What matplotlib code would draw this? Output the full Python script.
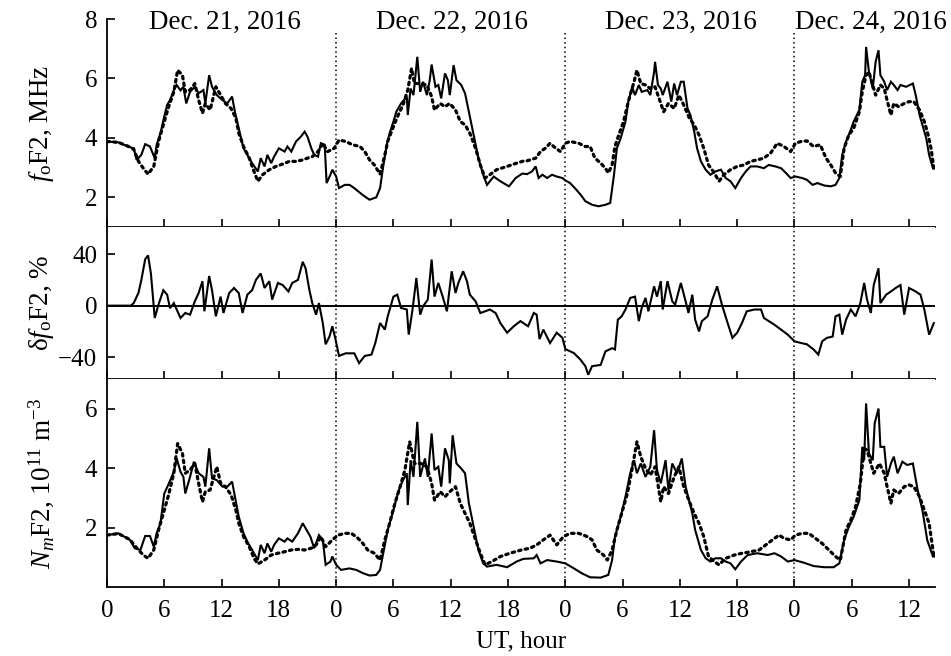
import numpy as np
import matplotlib
matplotlib.use("Agg")
import matplotlib.pyplot as plt

plt.rcParams['font.family'] = ['Liberation Serif', 'DejaVu Serif']
plt.rcParams['mathtext.fontset'] = 'custom'
plt.rcParams['mathtext.rm'] = 'Liberation Serif'
plt.rcParams['mathtext.it'] = 'Liberation Serif:italic'

# ---- foF2, observed (solid) ----
fo_obs_h = [0.0, 1.2, 2.2, 2.8, 3.1, 3.6, 4.0, 4.5, 5.0, 5.2, 5.6, 6.0, 6.3, 6.6, 7.0, 7.3, 7.7, 8.0, 8.3, 8.7,
            9.2, 9.6, 10.1, 10.3, 10.7, 11.0, 11.5, 12.1, 12.6, 13.1, 13.4, 13.8, 14.3, 14.7, 15.2, 15.8, 16.1,
            16.5, 16.8, 17.2, 17.5, 18.0, 18.6, 18.9, 19.3, 19.8, 20.3, 20.7, 21.0, 21.4, 21.7, 22.1, 22.4,
            22.8, 23.0, 23.4, 23.6, 24.0, 24.3, 24.9, 25.4, 25.9, 26.5, 27.0, 27.5, 28.2, 28.6, 28.9, 29.3,
            29.6, 30.0, 30.3, 30.8, 31.4, 31.5, 31.8, 32.1, 32.5, 32.8, 33.1, 33.5, 33.8, 34.0, 34.4, 34.7,
            35.0, 35.4, 35.7, 35.9, 36.3, 36.6, 37.1, 37.5, 37.9, 38.4, 38.9, 39.4, 39.8, 40.5, 41.2, 42.1,
            42.8, 43.5, 44.0, 44.5, 44.9, 45.2, 45.6, 46.1, 46.6, 47.1, 47.7, 48.0, 48.5, 49.0, 49.6, 50.1,
            50.8, 51.5, 52.2, 52.7, 53.1, 53.4, 53.8, 54.3, 54.6, 55.0, 55.3, 55.7, 56.0, 56.6, 56.9, 57.3,
            57.4, 57.7, 58.0, 58.2, 58.7, 59.1, 59.4, 59.7, 60.1, 60.4, 60.8, 61.1, 61.5, 61.8, 62.2, 62.7,
            63.2, 63.7, 64.3, 64.8, 65.3, 65.8, 66.4, 66.9, 67.4, 68.1, 68.8, 69.3, 70.0, 70.6, 71.1, 71.6,
            72.1, 72.8, 73.3, 73.9, 74.4, 75.1, 75.8, 76.3, 76.7, 77.0, 77.4, 77.9, 78.2, 78.8, 79.1, 79.4,
            79.5, 79.8, 80.2, 80.5, 80.8, 81.0, 81.4, 81.7, 82.1, 82.4, 82.8, 83.1, 83.7, 84.4, 84.7, 85.1,
            85.4, 85.8, 86.1, 86.5]
fo_obs = [3.88, 3.85, 3.71, 3.65, 3.26, 3.43, 3.79, 3.71, 3.32, 3.77, 4.16, 4.72, 5.11, 5.27, 5.61, 5.78, 5.60,
          5.72, 5.16, 5.55, 5.72, 5.50, 5.61, 5.16, 6.11, 5.72, 5.44, 5.27, 5.16, 5.39, 4.88, 4.32, 3.65, 3.43,
          3.15, 2.87, 3.32, 3.04, 3.43, 3.15, 3.37, 3.65, 3.54, 3.71, 3.54, 3.88, 4.04, 4.21, 4.04, 3.65, 3.43,
          3.37, 3.82, 3.77, 2.48, 2.76, 2.93, 2.70, 2.31, 2.42, 2.42, 2.31, 2.15, 2.03, 1.92, 2.00, 2.31, 2.98,
          3.77, 4.16, 4.55, 4.88, 5.16, 5.39, 4.77, 5.66, 5.44, 6.73, 5.55, 5.89, 5.44, 5.94, 6.47, 5.72, 5.78,
          5.33, 6.17, 5.94, 5.44, 6.45, 5.94, 5.78, 5.50, 4.88, 4.10, 3.32, 2.76, 2.42, 2.70, 2.54, 2.37, 2.65,
          2.80, 2.78, 2.87, 3.04, 2.65, 2.76, 2.65, 2.76, 2.70, 2.65, 2.57, 2.48, 2.31, 2.09, 1.87, 1.75, 1.70,
          1.75, 1.81, 2.76, 3.65, 3.99, 4.55, 5.22, 5.72, 5.44, 5.78, 5.55, 5.61, 5.44, 6.22, 6.56, 5.78, 5.66,
          5.44, 5.89, 5.22, 5.83, 5.44, 5.89, 5.89, 4.99, 4.77, 4.21, 3.65, 3.21, 2.93, 2.76, 2.87, 2.93, 2.65,
          2.54, 2.31, 2.65, 2.87, 3.04, 3.04, 2.98, 3.09, 3.04, 2.98, 2.82, 2.65, 2.70, 2.65, 2.59, 2.42, 2.48,
          2.40, 2.37, 2.42, 2.65, 3.43, 3.88, 4.27, 4.55, 4.94, 5.89, 6.11, 7.06, 6.22, 5.66, 6.56, 6.95, 6.11,
          5.89, 5.61, 5.89, 5.78, 5.61, 5.78, 5.72, 5.83, 5.44, 4.77, 4.43, 3.99, 3.43, 2.98]

# ---- foF2, median (dotted) ----
fo_med_h = [0.0, 1.2, 2.2, 2.8, 3.3, 3.8, 4.3, 4.9, 5.4, 5.9, 6.4, 7.0, 7.4, 7.9, 8.2, 8.7, 9.2, 9.6, 10.0, 10.3,
            10.8, 11.4, 11.9, 12.4, 13.0, 13.5, 13.8, 14.3, 14.9, 15.4, 15.8, 16.3, 17.0, 17.7, 18.4, 19.1,
            19.8, 20.5, 21.0, 21.5, 22.1, 22.6, 23.1, 23.8, 24.3, 25.0, 25.7, 26.5, 27.0, 27.5, 28.0, 28.6,
            29.1, 29.4, 30.0, 30.5, 31.0, 31.5, 31.9, 32.2, 32.9, 33.5, 34.0, 34.3, 34.9, 35.4, 35.9, 36.5,
            37.0, 37.5, 38.0, 38.6, 39.1, 39.6, 40.1, 40.8, 41.9, 42.9, 43.6, 44.0, 44.9, 45.4, 45.9, 46.4,
            47.0, 47.5, 48.0, 48.5, 49.4, 50.1, 50.6, 51.1, 51.7, 52.2, 52.5, 52.9, 53.2, 53.6, 54.1, 54.6,
            55.2, 55.5, 55.9, 56.4, 56.9, 57.4, 58.0, 58.3, 58.8, 59.4, 59.9, 60.4, 61.0, 61.5, 62.0, 62.5,
            63.0, 63.6, 64.1, 64.6, 65.3, 66.0, 66.7, 67.4, 68.1, 68.8, 69.5, 70.2, 70.9, 71.6, 72.1, 72.7,
            73.3, 74.0, 74.7, 75.3, 75.8, 76.3, 76.8, 77.2, 77.7, 78.2, 78.8, 79.1, 79.5, 79.8, 80.2, 80.5,
            81.0, 81.4, 81.7, 82.1, 82.4, 82.9, 83.5, 84.0, 84.5, 85.1, 85.6, 86.0, 86.3, 86.6]
fo_med = [3.88, 3.85, 3.72, 3.62, 3.21, 2.98, 2.78, 3.04, 3.88, 4.44, 4.99, 5.55, 6.28, 6.11, 5.55, 5.61, 5.83,
          5.27, 4.83, 5.16, 4.94, 5.72, 5.44, 5.16, 4.99, 4.66, 4.16, 3.71, 3.32, 2.87, 2.54, 2.76, 2.93, 3.04,
          3.12, 3.21, 3.21, 3.26, 3.32, 3.37, 3.54, 3.82, 3.54, 3.65, 3.93, 3.88, 3.77, 3.71, 3.54, 3.26, 3.09,
          2.78, 3.43, 3.88, 4.38, 4.77, 5.11, 5.61, 6.34, 5.83, 5.83, 5.78, 5.39, 4.94, 5.16, 5.05, 5.16, 4.94,
          4.55, 4.44, 4.16, 3.65, 3.09, 2.65, 2.76, 2.93, 3.04, 3.15, 3.22, 3.23, 3.32, 3.54, 3.65, 3.82, 3.65,
          3.54, 3.82, 3.88, 3.82, 3.71, 3.71, 3.32, 3.15, 2.98, 2.82, 3.09, 3.71, 4.10, 4.55, 5.22, 5.89, 6.28,
          5.83, 5.78, 5.66, 5.72, 5.16, 4.88, 5.16, 4.99, 5.44, 5.11, 4.66, 4.44, 4.10, 3.65, 3.09, 2.82, 2.54,
          2.76, 2.93, 3.04, 3.09, 3.21, 3.26, 3.32, 3.49, 3.82, 3.71, 3.54, 3.82, 3.88, 3.90, 3.71, 3.77, 3.32,
          3.09, 2.82, 2.70, 3.65, 4.10, 4.32, 4.88, 5.55, 6.11, 6.22, 5.78, 5.44, 5.78, 5.66, 5.27, 4.77, 5.16,
          5.05, 5.16, 5.22, 5.22, 4.94, 4.55, 4.10, 3.65, 2.98]

# ---- delta foF2, % ----
dfo_h = [0.0, 2.5, 2.8, 3.3, 3.6, 4.0, 4.3, 4.6, 4.9, 5.0, 5.4, 5.9, 6.3, 6.6, 7.0, 7.3, 7.7, 8.2, 8.7, 9.2, 9.6,
         10.0, 10.2, 10.7, 11.0, 11.4, 11.9, 12.2, 12.8, 13.3, 13.8, 14.2, 14.7, 15.2, 15.6, 16.1, 16.5, 17.0,
         17.3, 17.9, 18.4, 19.0, 19.4, 20.0, 20.5, 20.8, 21.2, 21.5, 21.9, 22.2, 22.6, 22.9, 23.3, 23.6, 23.9,
         24.3, 25.0, 25.9, 26.4, 27.0, 27.7, 28.1, 28.6, 29.1, 29.4, 30.0, 30.4, 30.8, 31.4, 31.6, 32.0, 32.4,
         32.8, 33.1, 33.6, 34.0, 34.3, 34.7, 35.2, 35.6, 36.1, 36.5, 36.8, 37.3, 37.7, 38.0, 38.6, 39.1, 39.6,
         40.1, 40.7, 41.2, 41.9, 42.6, 43.3, 44.1, 44.7, 45.0, 45.3, 45.7, 46.4, 47.1, 47.7, 48.0, 48.9, 49.6,
         50.1, 50.4, 50.8, 51.7, 52.2, 52.9, 53.2, 53.5, 53.9, 54.3, 54.8, 55.3, 55.7, 56.0, 56.4, 56.7, 57.3,
         57.6, 58.0, 58.2, 58.7, 59.2, 59.5, 60.1, 60.6, 60.9, 61.3, 61.6, 62.0, 62.3, 62.9, 63.4, 63.9, 64.4,
         65.0, 65.5, 66.0, 66.5, 67.0, 67.8, 68.5, 68.8, 69.3, 69.9, 70.6, 71.3, 72.0, 72.7, 73.3, 74.0, 74.5,
         74.9, 75.4, 76.0, 76.3, 76.7, 77.0, 77.4, 77.9, 78.4, 78.9, 79.3, 79.6, 80.0, 80.3, 80.8, 81.0, 81.6,
         82.1, 82.6, 83.1, 83.5, 84.0, 84.7, 85.2, 85.6, 86.1, 86.6]
dfo = [0, 0, 2, 10, 20, 36, 39, 25, -0.5, -9.6, 1, 12, 8.5, -2, 2, -3, -9.6, -5.7, -7, 3.4, 9.8, 19, -4.4, 23, 12,
       -8.3, 7, -5.7, 9.8, 13.7, 9.8, -5.7, 8.5, 12, 20, 25, 13.7, 19, 4.7, 17.6, 16, 11, 17.6, 20, 34, 29, 12, 2,
       -7, 2, -13.5, -30, -24, -16, -25, -39, -37, -37, -44.6, -39, -38, -29, -13.5, -18.6, -8.3, 7, 8.5, -1.8,
       -3, -22.5, -3, 21.5, -7, -0.5, 4.7, 35.8, 7, 17.6, 6, -4.4, 26.7, 9.8, 17.6, 26.7, 19, 8.5, 3.4, -5.7,
       -4.4, -3, -5.7, -13.5, -21, -16, -12, -16, -5.7, -7, -26, -18.6, -29, -21, -25, -33.7, -36.8, -42, -47,
       -53.6, -47, -46, -35.5, -33, -34, -10.9, -8.3, -3, 6, 7, -12, -1.8, 6, -4.4, 15, 7, 19, -3, 19, 3.4, 0.8,
       17.6, 3.4, -5.7, 8.5, -10.9, -20, -12, -8.3, 4.7, 15, 0.8, -13.5, -25, -21, -13.5, -4.4, -3, -3, -9.6,
       -12, -14.8, -18.6, -22.5, -27.7, -29, -30, -34, -38, -27.7, -25, -24, -8.3, -7, -22.5, -10.9, -3, -8.3, 2,
       17.6, 4.7, -5.7, 16, 29, 2, 8.5, 11, 13.7, 16, -7, 13.7, 11, 8.5, -3, -22.5, -13.5]

# ---- NmF2, observed (solid), 1e11 m^-3 ----
nm_obs_h = [0.0, 1.2, 2.4, 2.9, 3.5, 4.0, 4.5, 4.9, 5.2, 5.6, 6.0, 6.4, 7.0, 7.3, 7.7, 8.0, 8.2, 8.7, 9.1, 9.6,
            10.1, 10.3, 10.7, 11.0, 11.5, 12.1, 12.6, 13.1, 13.4, 13.8, 14.3, 14.7, 15.2, 15.8, 16.1, 16.5,
            16.8, 17.2, 17.5, 18.0, 18.6, 18.9, 19.4, 20.0, 20.5, 20.8, 21.3, 21.7, 22.2, 22.6, 22.9, 23.4,
            23.6, 24.0, 24.5, 25.4, 26.1, 26.8, 27.5, 28.2, 28.6, 29.0, 29.4, 30.0, 30.5, 31.0, 31.4, 31.5,
            31.8, 32.1, 32.5, 32.8, 33.3, 33.6, 34.0, 34.3, 34.7, 35.0, 35.4, 35.8, 35.9, 36.2, 36.6, 37.1,
            37.5, 37.9, 38.4, 38.9, 39.4, 39.8, 40.8, 41.9, 42.9, 43.6, 44.7, 45.0, 45.4, 46.1, 47.1, 48.0,
            48.9, 49.7, 50.6, 51.7, 52.5, 52.9, 53.2, 53.8, 54.3, 54.8, 55.2, 55.5, 55.9, 56.4, 56.9, 57.3,
            57.6, 58.0, 58.5, 58.8, 59.2, 59.7, 60.2, 60.6, 60.9, 61.3, 61.6, 62.2, 62.7, 63.2, 63.7, 64.3,
            64.8, 65.3, 65.8, 66.4, 67.1, 68.1, 69.2, 69.9, 70.6, 71.3, 72.0, 73.0, 74.0, 75.1, 76.1, 76.7,
            77.2, 77.7, 78.2, 78.8, 79.1, 79.3, 79.5, 79.8, 80.2, 80.4, 80.8, 81.0, 81.4, 81.7, 82.1, 82.4,
            82.8, 83.3, 83.8, 84.4, 84.9, 85.4, 85.9, 86.5, 86.7]
nm_obs = [1.75, 1.81, 1.59, 1.31, 1.25, 1.72, 1.72, 1.36, 1.81, 2.15, 3.15, 3.43, 3.88, 4.33, 3.88, 3.71, 3.15,
          3.71, 4.22, 3.83, 3.71, 3.38, 4.67, 3.66, 3.60, 3.38, 3.38, 3.55, 3.04, 2.37, 1.81, 1.53, 1.25, 0.91,
          1.42, 1.14, 1.47, 1.19, 1.42, 1.64, 1.53, 1.64, 1.53, 1.81, 2.15, 1.98, 1.70, 1.31, 1.75, 1.59, 0.75,
          0.86, 1.03, 0.75, 0.58, 0.63, 0.58, 0.47, 0.39, 0.41, 0.58, 1.25, 1.92, 2.59, 3.21, 3.60, 3.83, 2.76,
          4.27, 3.71, 5.56, 3.71, 4.33, 3.71, 5.17, 3.94, 4.05, 3.38, 4.67, 4.27, 3.49, 5.11, 4.16, 3.99, 3.83,
          2.82, 2.03, 1.25, 0.80, 0.69, 0.75, 0.67, 0.86, 0.95, 0.97, 1.08, 0.80, 0.91, 0.86, 0.80, 0.63, 0.47,
          0.33, 0.32, 0.41, 0.91, 1.70, 2.37, 3.04, 3.83, 4.27, 3.83, 4.16, 3.71, 4.05, 5.28, 3.94, 3.49, 4.27,
          3.27, 4.16, 3.83, 4.33, 3.38, 2.99, 2.48, 1.92, 1.25, 0.97, 0.86, 0.97, 0.97, 0.86, 0.80, 0.60, 0.86,
          1.08, 1.14, 1.08, 1.14, 1.03, 0.86, 0.91, 0.82, 0.71, 0.67, 0.67, 0.80, 1.59, 2.03, 2.37, 2.93, 4.72,
          4.27, 6.18, 4.50, 4.27, 5.51, 6.01, 4.72, 4.72, 3.71, 4.16, 4.39, 3.83, 4.22, 4.11, 4.16, 3.27, 2.59,
          1.59, 1.03, 1.03]

# ---- NmF2, median (dotted) ----
nm_med_h = [0.0, 1.2, 2.4, 2.9, 3.3, 3.8, 4.3, 4.9, 5.4, 5.9, 6.4, 7.0, 7.4, 7.9, 8.2, 8.7, 9.2, 9.6, 10.0, 10.3,
            10.8, 11.5, 11.9, 12.4, 13.0, 13.5, 13.8, 14.3, 14.9, 15.4, 15.8, 16.5, 17.2, 17.9, 18.6, 19.3,
            20.0, 20.7, 21.4, 21.9, 22.4, 22.9, 23.6, 24.2, 24.9, 25.6, 26.3, 26.8, 27.3, 28.0, 28.6, 29.1,
            29.6, 30.1, 30.7, 31.2, 31.7, 32.2, 32.9, 33.5, 34.0, 34.3, 34.9, 35.4, 35.9, 36.5, 37.0, 37.5,
            38.0, 38.6, 39.1, 39.6, 40.3, 41.2, 42.2, 43.4, 44.3, 45.0, 45.7, 46.4, 47.1, 47.8, 48.5, 49.4,
            50.3, 50.8, 51.3, 52.0, 52.4, 52.9, 53.4, 53.9, 54.5, 55.0, 55.5, 55.9, 56.4, 56.9, 57.4, 58.0,
            58.3, 58.8, 59.4, 59.9, 60.4, 61.0, 61.5, 62.0, 62.5, 63.0, 63.6, 64.1, 64.8, 65.7, 66.5, 67.4,
            68.3, 69.2, 69.9, 70.4, 70.9, 71.6, 72.1, 72.8, 73.5, 74.2, 74.9, 75.6, 76.3, 76.8, 77.4, 77.9,
            78.4, 78.9, 79.3, 79.6, 80.0, 80.3, 80.9, 81.4, 81.7, 82.1, 82.4, 82.9, 83.5, 84.0, 84.5, 85.1,
            85.6, 86.1, 86.6]
nm_med = [1.75, 1.80, 1.60, 1.40, 1.25, 1.08, 0.97, 1.25, 1.92, 2.48, 3.04, 3.83, 4.83, 4.50, 3.83, 3.94, 4.16,
          3.49, 2.87, 3.21, 3.27, 4.05, 3.49, 3.38, 3.10, 2.59, 2.15, 1.70, 1.36, 0.97, 0.78, 0.91, 1.08, 1.14,
          1.19, 1.25, 1.27, 1.25, 1.31, 1.42, 1.70, 1.36, 1.59, 1.75, 1.81, 1.81, 1.64, 1.47, 1.25, 1.14, 0.91,
          1.59, 2.15, 2.76, 3.38, 3.94, 4.89, 4.16, 4.16, 4.05, 3.49, 2.93, 3.21, 3.04, 3.21, 3.38, 2.82, 2.48,
          2.15, 1.59, 1.14, 0.75, 0.86, 1.03, 1.14, 1.25, 1.31, 1.42, 1.59, 1.75, 1.42, 1.70, 1.81, 1.81, 1.70,
          1.59, 1.25, 1.08, 0.91, 1.25, 1.92, 2.48, 3.15, 3.99, 4.89, 4.39, 3.99, 3.77, 4.05, 2.87, 3.38, 3.15,
          3.71, 4.05, 3.38, 2.87, 2.48, 2.15, 1.70, 1.03, 0.86, 0.75, 0.97, 1.08, 1.14, 1.19, 1.25, 1.47, 1.64,
          1.75, 1.64, 1.59, 1.75, 1.81, 1.81, 1.64, 1.47, 1.25, 1.03, 0.91, 1.92, 2.26, 2.71, 3.49, 4.67, 4.61,
          4.16, 3.83, 4.16, 3.83, 3.38, 2.82, 3.27, 3.15, 3.38, 3.44, 3.38, 3.04, 2.59, 2.15, 1.03]

day_starts = [24, 48, 72]
day_labels = ["Dec. 21, 2016", "Dec. 22, 2016", "Dec. 23, 2016", "Dec. 24, 2016"]
day_label_x = [12.4, 36.1, 60.1, 80.0]
hour_ticks = list(range(0, 85, 6))
hour_ticklabels = [str(h % 24) for h in hour_ticks]

FS = 18
FS_LABEL = 19.5
FS_DATE = 19.5
solid_kw = dict(color="black", lw=1.5, solid_joinstyle="miter")
dot_kw = dict(color="black", lw=2.3, linestyle=(0, (0.8, 1.3)), dash_capstyle="round")
vline_kw = dict(color="black", linestyle=(0, (1, 2)), lw=1.1)

fig = plt.figure(figsize=(9.51, 6.56), dpi=100)
gs = fig.add_gridspec(3, 1, height_ratios=[208, 152, 208], hspace=0,
                      left=0.1125, right=0.983, top=0.971, bottom=0.105)
axs = [fig.add_subplot(gs[i]) for i in range(3)]

ax1, ax2, ax3 = axs
ax1.plot(fo_med_h, fo_med, **dot_kw)
ax1.plot(fo_obs_h, fo_obs, **solid_kw)
ax1.set_ylim(1, 8)
ax1.set_yticks([2, 4, 6, 8])
ax1.set_ylabel(r"$f_{\rm o}$F2, MHz", fontsize=FS_LABEL)
for x in day_starts:
    ax1.vlines(x, 1, 7.55, colors="black", linestyles=vline_kw["linestyle"], lw=vline_kw["lw"])
for x, s in zip(day_label_x, day_labels):
    ax1.text(x, 7.68, s, ha="center", va="baseline", fontsize=FS_DATE, clip_on=False)

ax2.plot(dfo_h, dfo, **solid_kw)
ax2.axhline(0, color="black", lw=1.4)
ax2.set_ylim(-57, 61)
ax2.set_yticks([-40, 0, 40])
ax2.set_ylabel(r"δ$f_{\rm o}$F2, %", fontsize=FS_LABEL)
for x in day_starts:
    ax2.axvline(x, **vline_kw)

ax3.plot(nm_med_h, nm_med, **dot_kw)
ax3.plot(nm_obs_h, nm_obs, **solid_kw)
ax3.set_ylim(0, 7)
ax3.set_yticks([2, 4, 6])
ax3.set_ylabel(r"$N_m$F2, 10$^{11}$ m$^{-3}$", fontsize=FS_LABEL)
for x in day_starts:
    ax3.axvline(x, **vline_kw)
ax3.set_xlabel("UT, hour", fontsize=FS, labelpad=6)

for i, ax in enumerate(axs):
    ax.set_xlim(0, 86.7)
    ax.set_xticks(hour_ticks)
    ax.spines["top"].set_visible(False)
    ax.spines["right"].set_visible(False)
    ax.spines["left"].set_linewidth(1.3)
    ax.spines["bottom"].set_linewidth(1.3)
    ax.tick_params(direction="in", length=6, width=1.2, labelsize=FS, pad=7)
    ax.yaxis.set_label_coords(-0.062, 0.5)
    if i < 2:
        ax.tick_params(axis="x", labelbottom=False)
    else:
        ax.set_xticklabels(hour_ticklabels)
        ax.tick_params(axis="x", pad=9)

fig.savefig("out.png", dpi=100)
